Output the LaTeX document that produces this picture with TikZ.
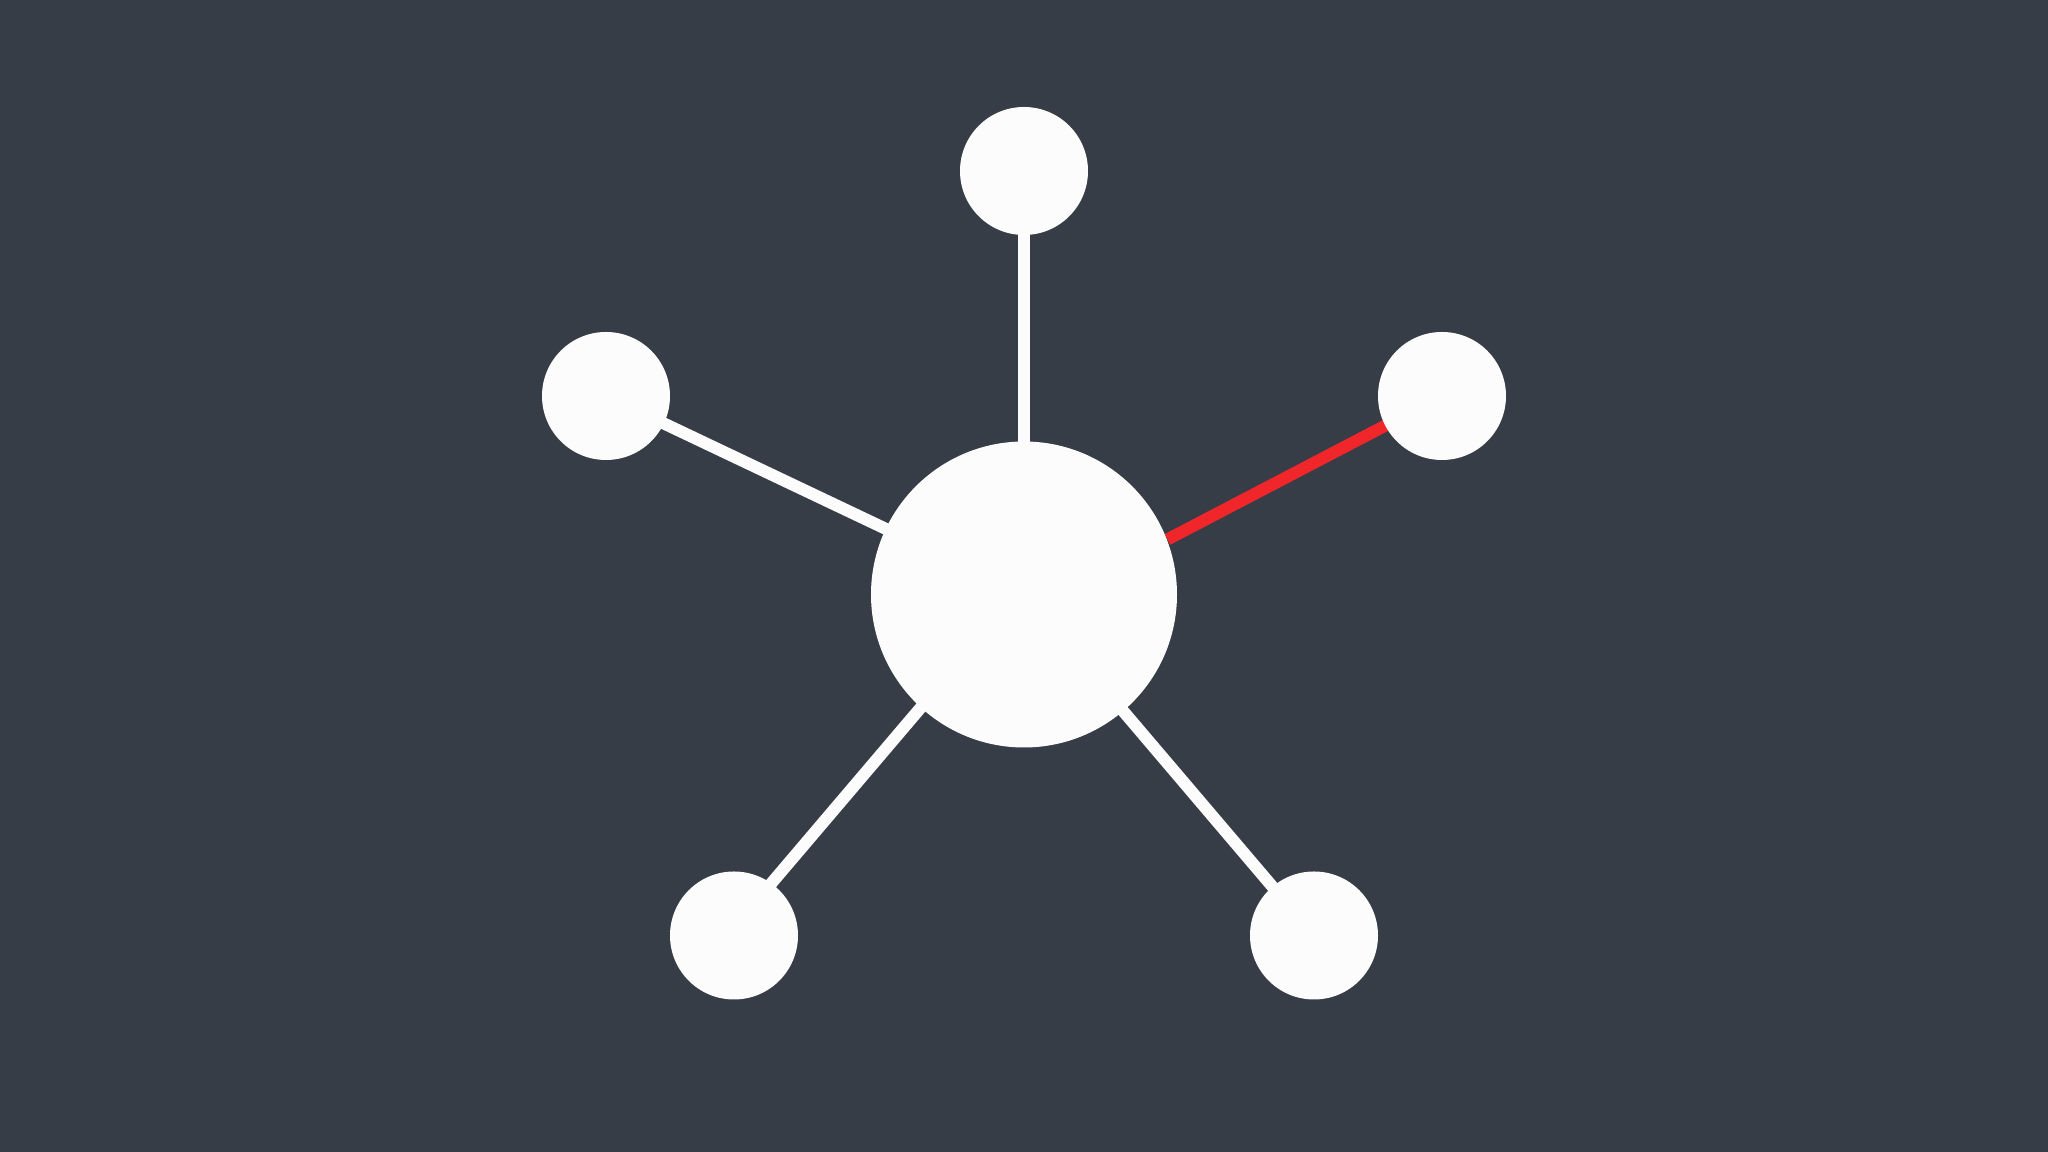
\documentclass[tikz,border=0pt]{standalone}
\usepackage{xcolor}
\usepackage{tikz}
\usetikzlibrary{backgrounds}

\definecolor{slateBg}{HTML}{373D46}
\definecolor{nodeWhite}{HTML}{FCFCFC}
\definecolor{linkRed}{HTML}{F0262A}

\begin{document}
\begin{tikzpicture}[
        hub/.style={circle, fill=nodeWhite, draw=none, minimum size=3.06cm, inner sep=0pt},
        leaf/.style={circle, fill=nodeWhite, draw=none, minimum size=1.28cm, inner sep=0pt},
        link/.style={line width=0.12cm, draw=nodeWhite},
        hotlink/.style={line width=0.12cm, draw=linkRed}
    ]
        \useasboundingbox (0,0) rectangle (20.48,11.52);
        \begin{scope}[on background layer]
            \fill[slateBg] (0,0) rectangle (20.48,11.52);
        \end{scope}

        % Central node
        \node[hub] (hub) at (10.24,5.575) {};

        % Outer nodes
        \node[leaf] (leafTop) at (10.24,9.81) {};
        \node[leaf] (leafLeft) at (6.06,7.56) {};
        \node[leaf] (leafRight) at (14.42,7.56) {};
        \node[leaf] (leafBotLeft) at (7.34,2.165) {};
        \node[leaf] (leafBotRight) at (13.14,2.165) {};

        % Links to the outer nodes
        \begin{scope}[on background layer]
            \draw[link] (hub.center) -- (leafTop.center);
            \draw[link] (hub.center) -- (leafLeft.center);
            \draw[link] ([xshift=-0.07cm]hub.center) -- ([xshift=-0.07cm]leafBotLeft.center);
            \draw[link] (hub.center) -- (leafBotRight.center);
            \draw[hotlink] (hub.21) -- (leafRight.center);
        \end{scope}

    \end{tikzpicture}
\end{document}
